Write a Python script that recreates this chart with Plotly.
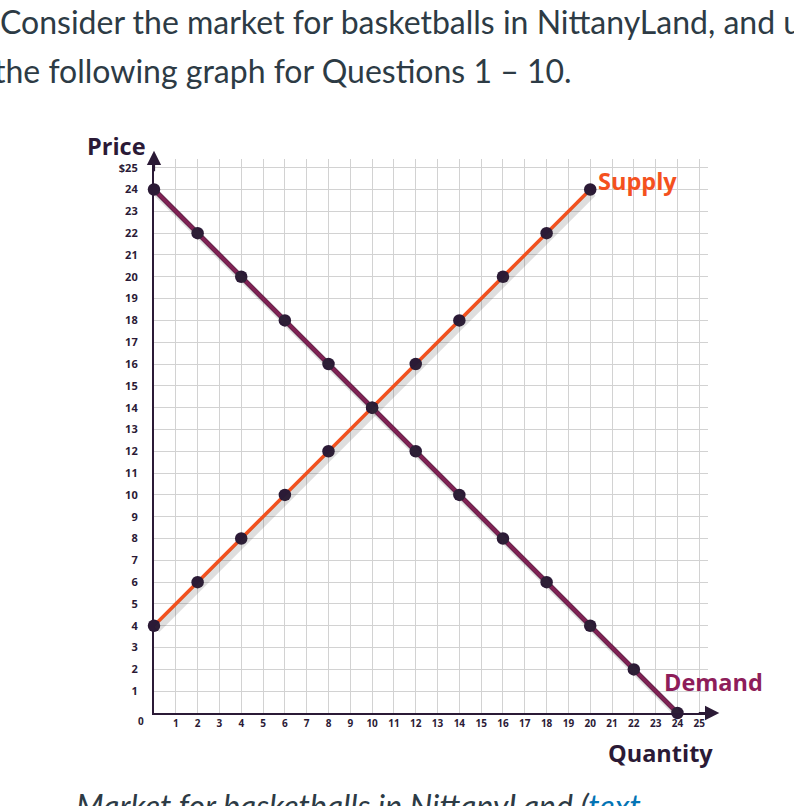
import plotly.graph_objects as go

# values
supply_q = [0, 2, 4, 6, 8, 10, 12, 14, 16, 18, 20]
supply_p = [4, 6, 8, 10, 12, 14, 16, 18, 20, 22, 24]
demand_q = [0, 2, 4, 6, 8, 10, 12, 14, 16, 18, 20, 22, 24]
demand_p = [24, 22, 20, 18, 16, 14, 12, 10, 8, 6, 4, 2, 0]
x_ticks = list(range(1, 26))
y_ticks = list(range(1, 26))
y_tick_text = [str(v) for v in range(1, 25)] + ["$25"]

# page / plot area in pixels
W, H = 794, 806
L, R = 154, 707.7
T, B = 159.3, 713
AX_MAX = 25.4

DARK = "#2b1a36"
ORANGE = "#f4511e"
MAGENTA = "#8e1d5a"
TEXT = "#2d3b45"


def px(x):
    return (x - L) / (R - L)


def py(y):
    return (B - y) / (B - T)


fig = go.Figure()

# soft drop shadow, drawn on overlaid axes shifted a few pixels
for q, p in [(supply_q, supply_p), (demand_q, demand_p)]:
    fig.add_trace(go.Scatter(x=q, y=p, mode="lines", xaxis="x2", yaxis="y2",
                             line=dict(color="rgba(60,60,60,0.17)", width=7),
                             hoverinfo="skip", showlegend=False))

fig.add_trace(go.Scatter(x=supply_q, y=supply_p, mode="lines",
                         line=dict(color=ORANGE, width=3.4),
                         name="Supply", showlegend=False))
# demand line: dark edge with magenta core
fig.add_trace(go.Scatter(x=demand_q, y=demand_p, mode="lines",
                         line=dict(color="#5a1640", width=4.8),
                         hoverinfo="skip", showlegend=False))
fig.add_trace(go.Scatter(x=demand_q, y=demand_p, mode="lines",
                         line=dict(color=MAGENTA, width=3.6),
                         name="Demand", showlegend=False))

# points
for q, p in [(supply_q, supply_p), (demand_q, demand_p)]:
    fig.add_trace(go.Scatter(x=q, y=p, mode="markers", cliponaxis=False,
                             marker=dict(color=DARK, size=12.5, line=dict(width=0)),
                             showlegend=False))

tick_font = dict(family="Open Sans", size=11, color=DARK, weight="bold")
grid = "#d2d2d2"

fig.update_layout(
    width=W, height=H,
    margin=dict(l=L, r=W - R, t=T, b=H - B),
    paper_bgcolor="white", plot_bgcolor="white",
    xaxis=dict(range=[0, AX_MAX], tickvals=x_ticks, ticktext=[str(v) for v in x_ticks],
               tickfont=dict(tick_font, size=10), showgrid=True, gridcolor=grid, gridwidth=1,
               zeroline=False, showline=True, linecolor=DARK, linewidth=2.2,
               ticks="", fixedrange=True),
    yaxis=dict(range=[0, AX_MAX], tickvals=y_ticks, ticktext=y_tick_text,
               tickfont=tick_font, showgrid=True, gridcolor=grid, gridwidth=1,
               zeroline=False, showline=True, linecolor=DARK, linewidth=2.2,
               ticks="outside", ticklen=12, tickcolor="rgba(0,0,0,0)", fixedrange=True),
    xaxis2=dict(range=[-0.13, AX_MAX - 0.13], overlaying="x", visible=False),
    yaxis2=dict(range=[0.17, AX_MAX + 0.17], overlaying="y", visible=False),
)

label_font = dict(family="Open Sans", size=23.5, weight="bold")
annotations = [
    # page text around the chart
    dict(x=px(-2), y=py(22), text="Consider the market for basketballs in NittanyLand, and use",
         xanchor="left", yanchor="middle",
         font=dict(family="Lato", size=32, color=TEXT)),
    dict(x=px(-8), y=py(71), text="the following graph for Questions 1 – 10.",
         xanchor="left", yanchor="middle",
         font=dict(family="Lato", size=32, color=TEXT)),
    dict(x=px(74), y=py(805), text="<i>Market for basketballs in NittanyLand (<span style='color:#0374b5'>text</span></i>",
         xanchor="left", yanchor="middle",
         font=dict(family="Lato", size=32, color=TEXT)),
    # axis titles and curve labels
    dict(x=px(117), y=py(146), text="Price", xanchor="center", yanchor="middle",
         font=dict(label_font, color=DARK)),
    dict(x=px(660), y=py(753), text="Quantity", xanchor="center", yanchor="middle",
         font=dict(label_font, color=DARK)),
    dict(x=px(596), y=py(181), text="Supply", xanchor="left", yanchor="middle",
         font=dict(label_font, color=ORANGE)),
    dict(x=px(662), y=py(682), text="Demand", xanchor="left", yanchor="middle",
         font=dict(label_font, color=MAGENTA)),
    dict(x=px(141), y=py(721), text="0", xanchor="center", yanchor="middle",
         font=dict(tick_font, size=10)),
    # axis arrow heads
    dict(x=px(154), y=py(151), ax=0, ay=22, text="", showarrow=True,
         arrowhead=2, arrowsize=1.3, arrowwidth=2.2, arrowcolor=DARK),
    dict(x=px(719), y=py(713), ax=-22, ay=0, text="", showarrow=True,
         arrowhead=2, arrowsize=1.3, arrowwidth=2.2, arrowcolor=DARK),
]
for a in annotations:
    a.setdefault("xref", "paper")
    a.setdefault("yref", "paper")
    a.setdefault("showarrow", False)
fig.update_layout(annotations=annotations)

# drop the browser's default body margin so the figure sits at the page corner
fig.write_html("out.html", config={"displayModeBar": False},
               post_script="document.body.style.margin='0';")
